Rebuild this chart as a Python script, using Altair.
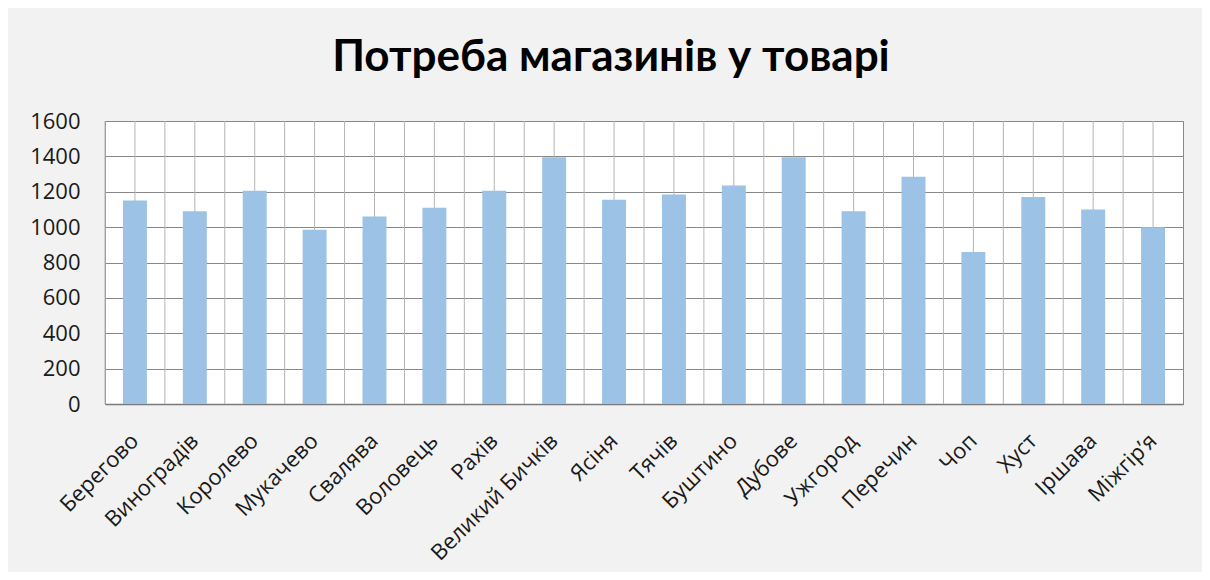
import altair as alt
import pandas as pd

categories = ["Берегово", "Виноградів", "Королево", "Мукачево", "Свалява", "Воловець",
              "Рахів", "Великий Бичків", "Ясіня", "Тячів", "Буштино", "Дубове",
              "Ужгород", "Перечин", "Чоп", "Хуст", "Іршава", "Міжгір’я"]
values = [1150, 1090, 1205, 985, 1060, 1110, 1205, 1395, 1155, 1185, 1235, 1395,
          1090, 1285, 860, 1170, 1100, 1000]
y_ticks = [0, 200, 400, 600, 800, 1000, 1200, 1400, 1600]
title_text = "Потреба магазинів у товарі"

df = pd.DataFrame({"cat": categories, "val": values})

x_scale = alt.Scale(paddingInner=0, paddingOuter=0)
x_axis = alt.Axis(labelAngle=-45, labelFontSize=22, labelFont="Open Sans",
                  labelColor="#1a1a1a", labelPadding=33,
                  labelAlign="right", labelBaseline="middle",
                  ticks=False, grid=False,
                  domain=True, domainColor="#7a7a7a", domainWidth=1.5)
y_scale = alt.Scale(domain=[0, 1600], nice=False)
y_axis = alt.Axis(values=y_ticks, format="d", labelOverlap=False,
                  labelFontSize=22, labelFont="Open Sans",
                  labelColor="#1a1a1a", labelPadding=25, ticks=False,
                  domain=False, grid=True, gridColor="#888888", gridWidth=1)

def xe(band_pos=None):
    kw = dict(sort=categories, title=None, scale=x_scale, axis=x_axis)
    if band_pos is not None:
        kw["bandPosition"] = band_pos
    return alt.X("cat:N", **kw)

y_lo = alt.YDatum(0, scale=y_scale, axis=y_axis, title=None)
y_hi = alt.Y2Datum(1600)

grid_centers = alt.Chart(df).mark_rule(color="#b4b4b4", strokeWidth=1).encode(
    x=xe(), y=y_lo, y2=y_hi)
grid_edges = alt.Chart(df).mark_rule(color="#b4b4b4", strokeWidth=1).encode(
    x=xe(0), y=y_lo, y2=y_hi)

bars = alt.Chart(df).mark_bar(color="#9cc2e5", width=alt.RelativeBandSize(0.4)).encode(
    x=xe(),
    y=alt.Y("val:Q", title=None, scale=y_scale, axis=y_axis),
)

chart = alt.layer(grid_centers, grid_edges, bars).properties(
    width=1078, height=283,
    autosize=alt.AutoSizeParams(type="none"),
    padding={"left": 97, "top": 113, "right": 19, "bottom": 168},
    title=alt.TitleParams(title_text, font="Lato", fontSize=44,
                          fontWeight="bold", color="#000000", anchor="middle",
                          baseline="alphabetic", offset=48, dx=-33, dy=53),
).configure(background="#f2f2f2").configure_view(fill="white", stroke="#8a8a8a", strokeWidth=1)

chart.save("out.html", embed_options={"renderer": "svg", "actions": False})
